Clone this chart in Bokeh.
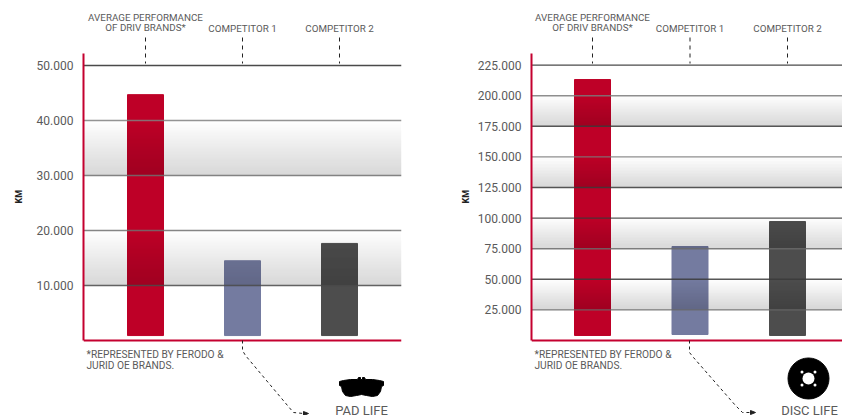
from bokeh.plotting import figure
from bokeh.layouts import row
from bokeh.models import Range1d, FixedTicker, Title
from bokeh.core.properties import value
from bokeh.embed import file_html
from bokeh.resources import INLINE

FONT = "Roboto"
TXT = "#5a5a5a"
categories = ["AVERAGE PERFORMANCE\nOF DRIV BRANDS*", "COMPETITOR 1", "COMPETITOR 2"]
bar_colors = ["#be0027", "#747ba0", "#4d4d4d"]
note = "*REPRESENTED BY FERODO &\n JURID OE BRANDS."

pad_ticks = [10000, 20000, 30000, 40000, 50000]
pad_labels = ["10.000", "20.000", "30.000", "40.000", "50.000"]
pad_tops = [44700, 14500, 17650]
pad_bottoms = [900, 900, 900]
pad_bands = [(30000, 40000), (10000, 20000)]
pad_line_colors = ["#4a4a4a", "#707070", "#707070", "#808080", "#2a2a2a"]

disc_ticks = [25000, 50000, 75000, 100000, 125000, 150000, 175000, 200000, 225000]
disc_labels = ["25.000", "50.000", "75.000", "100.000", "125.000", "150.000", "175.000", "200.000", "225.000"]
disc_tops = [213200, 76800, 97200]
disc_bottoms = [4100, 4900, 4100]
disc_bands = [(175000, 200000), (125000, 150000), (75000, 100000), (25000, 50000)]
disc_line_colors = ["#6a6a6a", "#3a3a3a", "#6a6a6a", "#3a3a3a", "#3a3a3a", "#7a7a7a", "#3a3a3a", "#7a7a7a", "#2a2a2a"]


def chart(ticks, labels, tops, bottoms, bands, line_colors, k, fig_left, frame_left,
          frame_right, fig_right, centers, curve, icon, title, label_cx, km_standoff):
    """k = km per pixel; the zero line sits at page y 340."""
    top_px, bottom_px = 0, 415
    py = lambda y: (340 - y) * k
    dx = (centers[2] - centers[0]) / 2
    px = lambda x: (x - centers[0]) / dx

    p = figure(width=fig_right - fig_left, height=bottom_px - top_px,
               output_backend="svg", toolbar_location=None,
               x_range=Range1d(px(frame_left), px(frame_right)),
               y_range=Range1d(py(bottom_px), py(top_px)),
               min_border_left=frame_left - fig_left,
               min_border_right=fig_right - frame_right,
               min_border_top=0, min_border_bottom=0,
               x_axis_location=None, outline_line_color=None)
    p.grid.visible = False
    p.background_fill_color = "white"

    xs = [0, 1, 2]
    p.vbar(x=xs, top=tops, bottom=bottoms, width=36 / dx, color=bar_colors)

    # band gradient: one translucent strip per pixel row, darker towards the lower edge
    for lo, hi in bands:
        n = max(1, round((hi - lo) / k))
        step = (hi - lo) / n
        p.quad(left=[px(frame_left)] * n, right=[px(frame_right)] * n,
               top=[hi - i * step for i in range(n)],
               bottom=[hi - (i + 1) * step for i in range(n)],
               fill_color="black", fill_alpha=[0.16 * (i + 1) / n for i in range(n)],
               line_color=None)

    p.segment(x0=[px(frame_left)] * len(ticks), x1=[px(frame_right)] * len(ticks),
              y0=ticks, y1=ticks, line_color=line_colors, line_width=1.4, line_alpha=0.85)
    p.segment(x0=[px(frame_left)], x1=[px(frame_right)], y0=[0], y1=[0],
              line_color="#c4002f", line_width=2)

    ax = p.yaxis[0]
    ax.bounds = (0, py(53))
    ax.ticker = FixedTicker(ticks=ticks)
    ax.major_label_overrides = {t: l for t, l in zip(ticks, labels)}
    ax.major_tick_line_color = None
    ax.minor_tick_line_color = None
    ax.major_tick_in = 0
    ax.major_tick_out = 0
    ax.minor_tick_in = 0
    ax.minor_tick_out = 0
    ax.axis_line_color = "#c4002f"
    ax.axis_line_width = 2
    ax.major_label_text_font = FONT
    ax.major_label_text_font_size = "12px"
    ax.major_label_text_color = TXT
    ax.major_label_standoff = 10

    # unit label: a rotated side title, so it can sit level with the axis line's middle
    p.add_layout(Title(text="KM", align="left", offset=212, standoff=km_standoff,
                       text_font=FONT, text_font_style="bold", text_font_size="9px",
                       text_color="#222222"), "left")

    # category captions and dashed leaders
    p.text(x=xs, y=[py(33)] * 3, text=categories, text_font=value(FONT),
           text_font_size="9.8px", text_color=TXT, text_align="center",
           text_baseline="bottom", text_line_height=0.95)
    for x in xs:
        p.line([x, x], [py(37), py(63)], line_color="#222222", line_dash="4 4", line_width=1)

    # footnote
    p.text(x=[px(frame_left + 3)], y=[py(348)], text=[note], text_font=value(FONT),
           text_font_size="10.2px", text_color=TXT, text_align="left",
           text_baseline="top", text_line_height=1.05)

    # leader to the icon
    cx = [px(a) for a, _ in curve]
    cy = [py(b) for _, b in curve]
    p.line(cx, cy, line_color="#222222", line_dash="3 3", line_width=1)
    ax1, ay1 = curve[-1]
    p.patch([px(ax1), px(ax1 + 5), px(ax1)], [py(ay1 - 2), py(ay1), py(ay1 + 2)], color="#222222")

    icon(p, px, py, dx, k)
    p.text(x=[px(label_cx)], y=[py(409.5)], text=[title], text_font=value(FONT),
           text_font_size="13px", text_color=TXT, text_align="center", text_baseline="alphabetic")
    return p


def pad_icon(p, px, py, dx, k):
    outline = [(339, 381), (343, 380), (350, 379), (357, 379), (358, 377), (360, 377), (360, 379),
               (362, 379), (362, 377), (364, 377), (365, 379), (372, 379),
               (379, 380), (383, 381), (383, 385), (381, 386), (380, 391), (377, 395), (372, 396),
               (366, 395), (361, 394), (356, 395), (350, 396), (345, 395), (342, 391), (341, 386), (339, 385)]
    p.patch([px(a) for a, _ in outline], [py(b) for _, b in outline], color="black")


def disc_icon(p, px, py, dx, k):
    c = 808
    m = 378
    p.scatter([px(c)], [py(m)], size=41, color="black", marker="circle")
    p.scatter([px(c)], [py(m)], size=12, fill_color="white", line_color=None, marker="circle")
    d = 6.5
    p.scatter([px(c - d), px(c + d), px(c - d), px(c + d)],
              [py(m - d), py(m - d), py(m + d), py(m + d)],
              size=3, fill_color="white", line_color=None, marker="circle")


left = chart(pad_ticks, pad_labels, pad_tops, pad_bottoms, pad_bands, pad_line_colors,
             10000 / 55, 0, 83, 401, 420, (145, 242, 339),
             [(242, 340), (242, 350), (245, 355), (287, 405), (293, 412), (303, 413)],
             pad_icon, "PAD LIFE", 361, 20)
right = chart(disc_ticks, disc_labels, disc_tops, disc_bottoms, disc_bands, disc_line_colors,
              25000 / 30.6, 420, 531, 842, 842, (592, 690, 787),
              [(689, 340), (689, 352), (693, 357), (735, 405), (742, 412), (750, 412)],
              disc_icon, "DISC LIFE", 809, 7)

page = row(left, right)
open("out.html", "w").write(file_html(page, INLINE))
